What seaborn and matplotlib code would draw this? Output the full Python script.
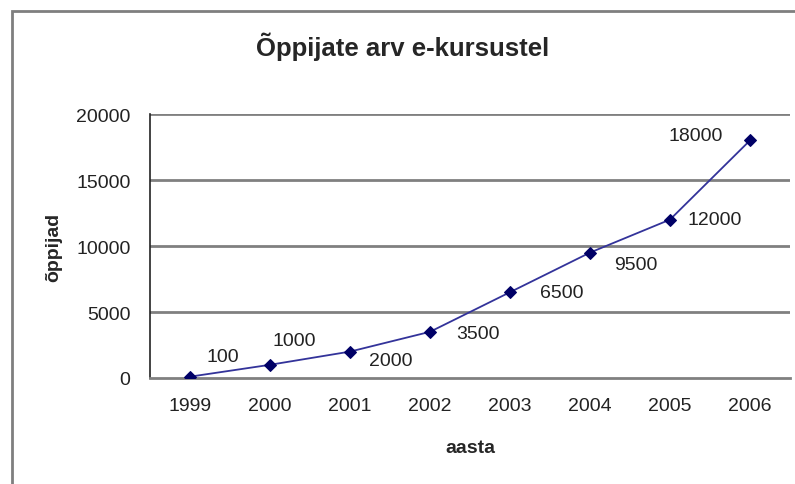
import numpy as np
import pandas as pd
import matplotlib
matplotlib.use("Agg")
import matplotlib.pyplot as plt
import seaborn as sns
from matplotlib.patches import Rectangle

# data
years = ["1999", "2000", "2001", "2002", "2003", "2004", "2005", "2006"]
learners = [100, 1000, 2000, 3500, 6500, 9500, 12000, 18000]
yticks = [0, 5000, 10000, 15000, 20000]
# label offsets in pixels (dx, dy) relative to each point
label_dx = [33, 24, 41, 48, 52, 46, 45, -54]
label_dy = [20, 24, -9, -2, 0, -12, 0, 5]

df = pd.DataFrame({"pos": np.arange(len(years)), "learners": learners})

sns.set_style("white")
plt.rcParams["font.family"] = ["Liberation Sans", "DejaVu Sans"]

fig = plt.figure(figsize=(7.95, 4.85), dpi=100)
fig.patch.set_facecolor("white")

# outer frame (cut off on the right and bottom)
fig.patches.append(Rectangle((12 / 795, -0.05), 1.1, 1 - 12 / 485 + 0.05,
                             transform=fig.transFigure, fill=False,
                             edgecolor="#7f7f7f", linewidth=2))

ax = fig.add_axes([150 / 795, 106 / 485, 640 / 795, 264 / 485])

for v in yticks[1:]:
    ax.axhline(v, color="#808080", linewidth=2, zorder=1)

sns.lineplot(data=df, x="pos", y="learners", ax=ax, color="#33339a",
             linewidth=1.3, marker="D", markersize=6,
             markerfacecolor="#000066", markeredgecolor="#000066", zorder=3)

for i, v in enumerate(learners):
    ax.annotate(str(v), (i, v), xytext=(label_dx[i] * 0.72, label_dy[i] * 0.72),
                textcoords="offset points", ha="center", va="center",
                fontsize=14, color="#222222")

ax.set_xlim(-0.5, len(years) - 0.5)
ax.set_ylim(0, 20000)
ax.set_yticks(yticks)
ax.set_yticklabels([str(t) for t in yticks], fontsize=14, color="#222222")
ax.set_xticks(np.arange(len(years)))
ax.set_xticklabels(years, fontsize=14, color="#222222")
ax.set_xticks(np.arange(len(years) + 1) - 0.5, minor=True)
ax.tick_params(axis="x", which="major", length=0, pad=14)
ax.tick_params(axis="x", which="minor", length=5, width=1.2, color="#333333", direction="out")
ax.tick_params(axis="y", length=5, width=1.2, color="#333333", direction="out", pad=9)

for s in ["top", "right"]:
    ax.spines[s].set_visible(False)
ax.spines["left"].set_color("#222222")
ax.spines["left"].set_linewidth(1.2)
ax.spines["bottom"].set_color("#808080")
ax.spines["bottom"].set_linewidth(2)

ax.set_xlabel("aasta", fontsize=14, fontweight="bold", labelpad=18)
ax.set_ylabel("õppijad", fontsize=14, fontweight="bold", labelpad=10)

fig.text(403 / 795, 1 - 47 / 485, "Õppijate arv e-kursustel", ha="center", va="center",
         fontsize=18.5, fontweight="bold")

fig.savefig("out.png", dpi=100)
